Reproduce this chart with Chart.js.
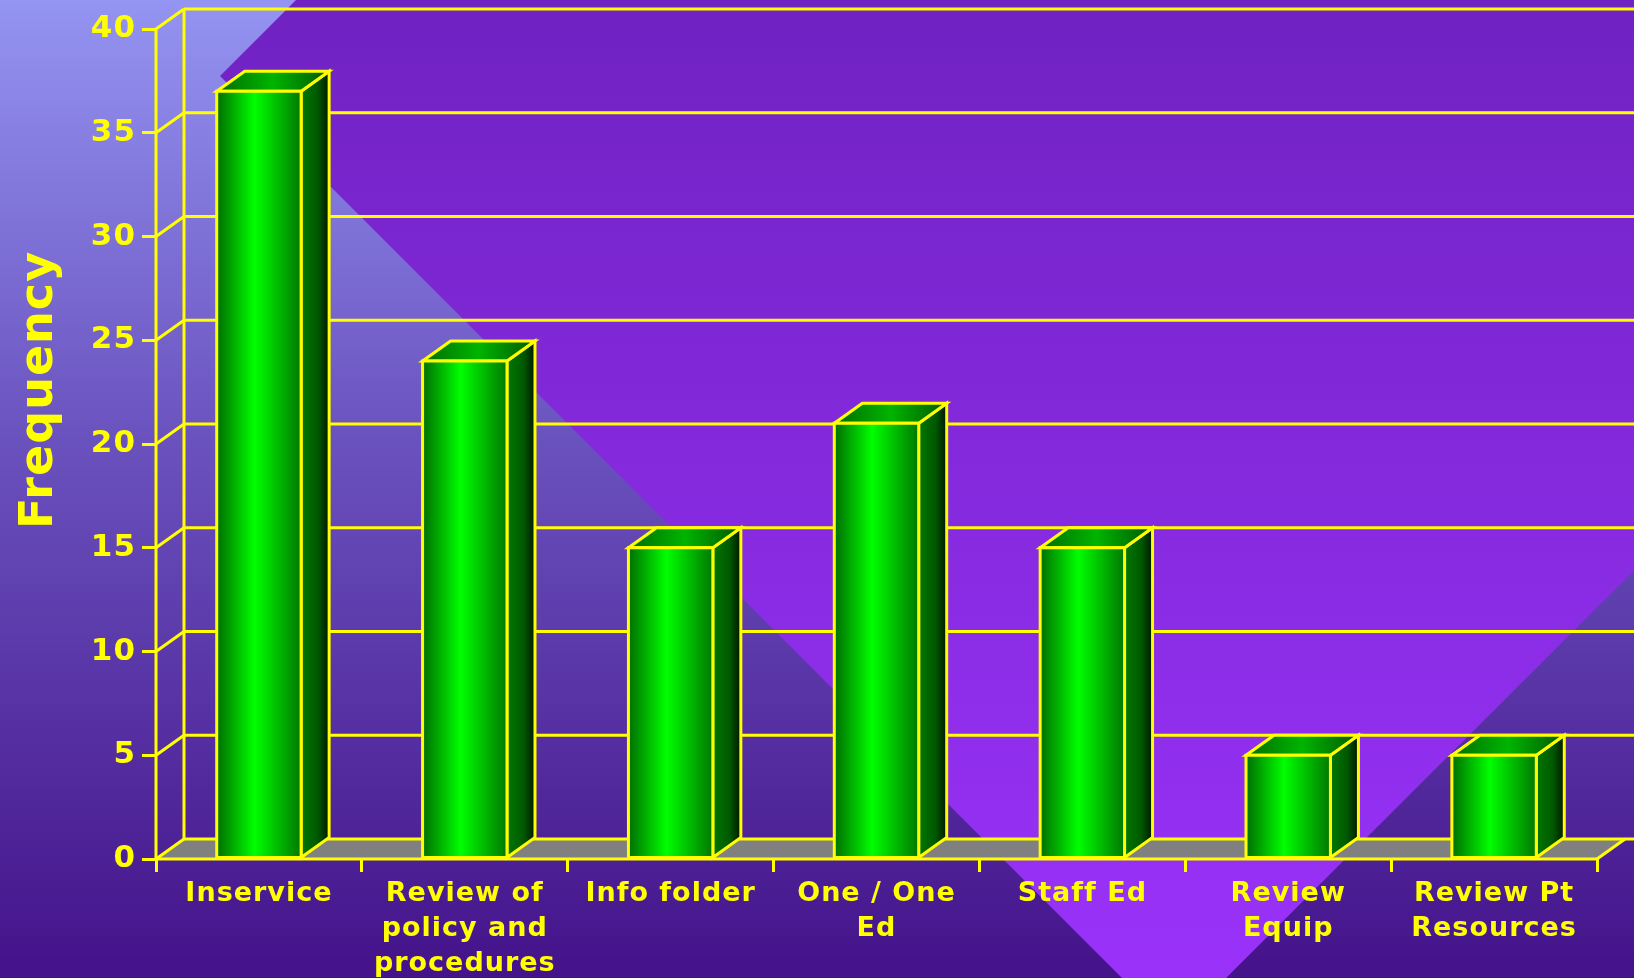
<!DOCTYPE html>
<html lang="en">
<head>
<meta charset="UTF-8">
<title>Frequency</title>
<script src="https://cdn.jsdelivr.net/npm/chart.js@4.4.1/dist/chart.umd.min.js"></script>
<style>
  html, body { margin: 0; padding: 0; overflow: hidden; background: #45158d; }
  canvas { display: block; }
</style>
</head>
<body>
<canvas id="freqChart" width="1634" height="978"></canvas>
<script>
// Chart data
const categories = [
  'Inservice',
  ['Review of', 'policy and', 'procedures'],
  'Info folder',
  ['One / One', 'Ed'],
  'Staff Ed',
  ['Review', 'Equip'],
  ['Review Pt', 'Resources']
];
const frequency = [37, 24, 15, 21, 15, 5, 5];
const yMin = 0, yMax = 40, yStep = 5;
const yTitle = 'Frequency';

// 3D look
const DX = 28, DY = 20;
const YELLOW = '#ffff00';
const FONT = "'DejaVu Sans', Verdana, sans-serif";

function line(ctx, x1, y1, x2, y2) {
  ctx.beginPath();
  ctx.moveTo(x1, y1);
  ctx.lineTo(x2, y2);
  ctx.stroke();
}

// background: vertical gradient plus the purple diamond
const backdrop = {
  id: 'backdrop',
  beforeDraw(chart) {
    const { ctx, width, height } = chart;
    ctx.save();
    let g = ctx.createLinearGradient(0, 0, 0, height);
    g.addColorStop(0, '#9494f2');
    g.addColorStop(0.45, '#6a52be');
    g.addColorStop(1, '#44128a');
    ctx.fillStyle = g;
    ctx.fillRect(0, 0, width, height);

    g = ctx.createLinearGradient(0, 0, 0, height);
    g.addColorStop(0, '#7022c2');
    g.addColorStop(1, '#9a32fa');
    ctx.fillStyle = g;
    ctx.beginPath();
    ctx.moveTo(296, 0);
    ctx.lineTo(220, 76);
    ctx.lineTo(1174, 1030);
    ctx.lineTo(2205, 0);
    ctx.closePath();
    ctx.fill();
    ctx.restore();
    // wider text for all labels
    ctx.letterSpacing = '1px';
  }
};

// back wall, side wall and floor
const walls = {
  id: 'walls',
  beforeDatasetsDraw(chart) {
    const { ctx, width } = chart;
    const { left, right, top, bottom } = chart.chartArea;
    const ys = chart.scales.y;
    ctx.save();
    ctx.fillStyle = '#808080';
    ctx.beginPath();
    ctx.moveTo(left, bottom);
    ctx.lineTo(right, bottom);
    ctx.lineTo(right + DX, bottom - DY);
    ctx.lineTo(left + DX, bottom - DY);
    ctx.closePath();
    ctx.fill();

    ctx.strokeStyle = YELLOW;
    ctx.lineWidth = 3;
    line(ctx, left + DX, top - DY, left + DX, bottom - DY);
    ys.ticks.forEach(t => {
      const py = ys.getPixelForValue(t.value);
      line(ctx, left, py, left + DX, py - DY);
      line(ctx, left + DX, py - DY, width, py - DY);
    });
    line(ctx, right, bottom, right + DX, bottom - DY);
    // front axis lines
    line(ctx, left, top, left, bottom + 1.5);
    line(ctx, left - 1.5, bottom, right + 1.5, bottom);
    ctx.restore();
  }
};

// bars drawn as boxes from the bar elements
const boxes = {
  id: 'boxes',
  afterDatasetsDraw(chart) {
    const { ctx } = chart;
    const meta = chart.getDatasetMeta(0);
    ctx.save();
    ctx.strokeStyle = YELLOW;
    ctx.lineWidth = 3;
    ctx.lineJoin = 'miter';
    meta.data.forEach(bar => {
      const { x, y, base, width } = bar.getProps(['x', 'y', 'base', 'width'], true);
      const l = x - width / 2, r = x + width / 2;

      // side
      let g = ctx.createLinearGradient(r, 0, r + DX, 0);
      g.addColorStop(0, '#007800');
      g.addColorStop(0.6, '#005800');
      g.addColorStop(1, '#001800');
      ctx.fillStyle = g;
      ctx.beginPath();
      ctx.moveTo(r, base);
      ctx.lineTo(r, y);
      ctx.lineTo(r + DX, y - DY);
      ctx.lineTo(r + DX, base - DY);
      ctx.closePath();
      ctx.fill();
      ctx.stroke();

      // top
      g = ctx.createLinearGradient(l, 0, r + DX, 0);
      g.addColorStop(0, '#006c00');
      g.addColorStop(0.5, '#00b400');
      g.addColorStop(1, '#005800');
      ctx.fillStyle = g;
      ctx.beginPath();
      ctx.moveTo(l, y);
      ctx.lineTo(l + DX, y - DY);
      ctx.lineTo(r + DX, y - DY);
      ctx.lineTo(r, y);
      ctx.closePath();
      ctx.fill();
      ctx.stroke();

      // front
      g = ctx.createLinearGradient(l, 0, r, 0);
      g.addColorStop(0, '#006e00');
      g.addColorStop(0.45, '#00ff00');
      g.addColorStop(1, '#007800');
      ctx.fillStyle = g;
      ctx.fillRect(l, y, width, base - y);
      ctx.strokeRect(l, y, width, base - y);
    });
    ctx.restore();
  }
};

// rotated axis title
const axisTitle = {
  id: 'axisTitle',
  afterDraw(chart) {
    const { ctx } = chart;
    ctx.save();
    ctx.translate(40, 390);
    ctx.rotate(-Math.PI / 2);
    ctx.font = 'bold 46px ' + FONT;
    ctx.fillStyle = YELLOW;
    ctx.textAlign = 'center';
    ctx.textBaseline = 'middle';
    ctx.fillText(yTitle, 0, 0);
    ctx.restore();
  }
};

new Chart(document.getElementById('freqChart'), {
  type: 'bar',
  data: {
    labels: categories,
    datasets: [{
      data: frequency,
      backgroundColor: 'rgba(0,0,0,0)',
      borderWidth: 0,
      barPercentage: 0.41,
      categoryPercentage: 1
    }]
  },
  options: {
    responsive: false,
    animation: false,
    events: [],
    layout: { padding: { top: 29, right: 37, left: 0, bottom: 0 } },
    plugins: { legend: { display: false }, tooltip: { enabled: false } },
    scales: {
      x: {
        afterFit(scale) { scale.height = 119; },
        border: { display: false },
        grid: {
          offset: true,
          drawOnChartArea: false,
          color: YELLOW,
          lineWidth: 3,
          tickLength: 13
        },
        ticks: {
          color: YELLOW,
          autoSkip: false,
          maxRotation: 0,
          padding: 4,
          font: { family: FONT, weight: 'bold', size: 27, lineHeight: 1.3 }
        }
      },
      y: {
        min: yMin,
        max: yMax,
        afterFit(scale) { scale.width = 156; },
        border: { display: false },
        grid: {
          drawOnChartArea: false,
          color: YELLOW,
          lineWidth: 3,
          tickLength: 14
        },
        ticks: {
          stepSize: yStep,
          color: YELLOW,
          padding: 6,
          font: { family: FONT, weight: 'bold', size: 31 }
        }
      }
    }
  },
  plugins: [backdrop, walls, boxes, axisTitle]
});
</script>
</body>
</html>
